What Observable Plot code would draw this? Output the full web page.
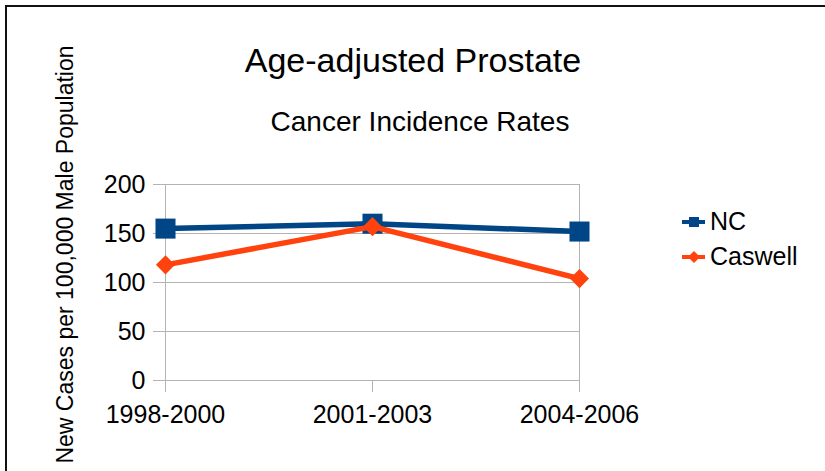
<!DOCTYPE html>
<html>
<head>
<meta charset="utf-8">
<script src="https://cdn.jsdelivr.net/npm/d3@7"></script>
<script src="https://cdn.jsdelivr.net/npm/@observablehq/plot@0.6"></script>
<style>
  html, body { margin: 0; padding: 0; background: #fff; }
  body { width: 825px; height: 471px; overflow: hidden; position: relative; font-family: "Liberation Sans", Arial, sans-serif; }
  #frame { position: absolute; left: 5px; top: 5px; width: 900px; height: 600px; border-left: 2px solid #111; border-top: 2px solid #111; box-sizing: border-box; }
  .txt { position: absolute; white-space: nowrap; color: #000; }
  #chart { position: absolute; left: 0; top: 0; }
  #legend { position: absolute; left: 680px; top: 205px; }
</style>
</head>
<body>
<div id="frame"></div>
<div id="chart"></div>
<div class="txt" id="title" style="left:213px; top:43px; width:400px; text-align:center; font-size:34px; line-height:34px;">Age-adjusted Prostate</div>
<div class="txt" id="subtitle" style="left:220px; top:108px; width:400px; text-align:center; font-size:28px; line-height:28px;">Cancer Incidence Rates</div>
<div class="txt" id="ylabel" style="left:-185px; top:243px; width:500px; text-align:center; font-size:23px; line-height:23px; transform:rotate(-90deg); transform-origin:50% 50%;">New Cases per 100,000 Male Population</div>
<div id="legend"></div>
<script>
const periods = ["1998-2000", "2001-2003", "2004-2006"];
const ncValues = [155, 160, 152];
const caswellValues = [118, 157, 104];
const yTicks = [0, 50, 100, 150, 200];
const seriesNames = ["NC", "Caswell"];
const seriesColors = ["#004586", "#ff420e"];

const nc = periods.map((p, i) => ({period: p, value: ncValues[i]}));
const caswell = periods.map((p, i) => ({period: p, value: caswellValues[i]}));

const grid = "#b3b3b3";
const font = "Liberation Sans, Arial, sans-serif";

const plot = Plot.plot({
  width: 825,
  height: 471,
  marginLeft: 164,
  marginRight: 246,
  marginTop: 184,
  marginBottom: 91,
  style: {fontFamily: font, background: "transparent", overflow: "visible"},
  x: {type: "point", domain: periods, padding: 0},
  y: {domain: [0, 200]},
  marks: [
    Plot.gridY(yTicks, {stroke: grid, strokeOpacity: 1, strokeWidth: 1}),
    Plot.ruleX([periods[0], periods[periods.length - 1]], {stroke: grid, strokeWidth: 1}),
    Plot.axisY(yTicks, {tickSize: 11, tickPadding: 8, stroke: grid, strokeOpacity: 1, fill: "#000", fontSize: 25, label: null}),
    Plot.axisX(periods, {tickSize: 12, tickPadding: 13, stroke: grid, strokeOpacity: 1, fill: "#000", fontSize: 25, label: null}),
    Plot.line(nc, {x: "period", y: "value", stroke: seriesColors[0], strokeWidth: 5.5}),
    Plot.dot(nc, {x: "period", y: "value", symbol: "square", r: 11.3, fill: seriesColors[0], stroke: "none"}),
    Plot.line(caswell, {x: "period", y: "value", stroke: seriesColors[1], strokeWidth: 5.5}),
    Plot.dot(caswell, {x: "period", y: "value", symbol: "diamond2", r: 8.6, fill: seriesColors[1], stroke: "none"})
  ]
});
document.getElementById("chart").appendChild(plot);

// Legend
const legend = document.getElementById("legend");
seriesNames.forEach((name, i) => {
  const row = document.createElement("div");
  row.style.cssText = "position:absolute; left:0; top:" + (i * 35) + "px; height:30px; width:140px;";
  const svgNS = "http://www.w3.org/2000/svg";
  const svg = document.createElementNS(svgNS, "svg");
  svg.setAttribute("width", "28");
  svg.setAttribute("height", "30");
  svg.style.cssText = "position:absolute; left:0; top:0;";
  const ln = document.createElementNS(svgNS, "line");
  ln.setAttribute("x1", "2"); ln.setAttribute("x2", "25");
  ln.setAttribute("y1", "17"); ln.setAttribute("y2", "17");
  ln.setAttribute("stroke", seriesColors[i]); ln.setAttribute("stroke-width", "4");
  svg.appendChild(ln);
  const mk = document.createElementNS(svgNS, "path");
  if (i === 0) mk.setAttribute("d", "M9,12H19V22H9Z");
  else mk.setAttribute("d", "M14,11L20,17L14,23L8,17Z");
  mk.setAttribute("fill", seriesColors[i]);
  svg.appendChild(mk);
  row.appendChild(svg);
  const t = document.createElement("div");
  t.className = "txt";
  t.textContent = name;
  t.style.cssText += "left:30px; top:3.8px; font-size:25px; line-height:25px;";
  row.appendChild(t);
  legend.appendChild(row);
});
</script>
</body>
</html>
